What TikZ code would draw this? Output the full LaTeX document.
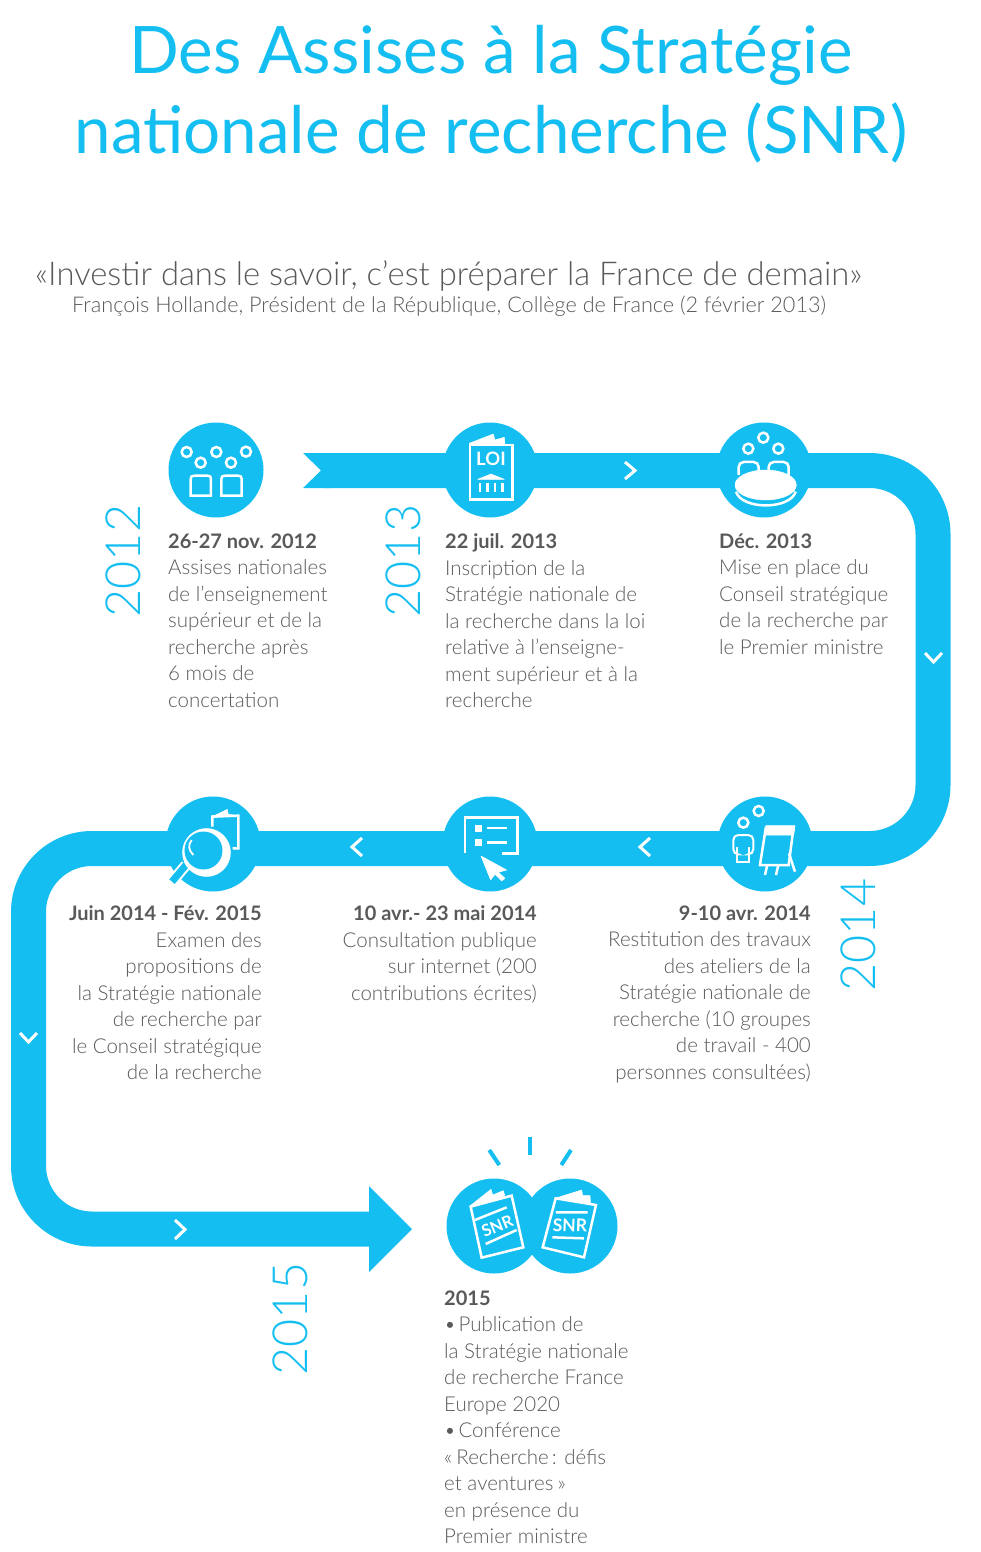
\documentclass[tikz,border=0pt]{standalone}
\usepackage{fontspec}
\setmainfont{Lato}[UprightFont=* Light,BoldFont=* Bold]
\newfontfamily\titlefont{Lato}
\usetikzlibrary{positioning}
\usetikzlibrary{calc}
\definecolor{snrblue}{HTML}{14BEF0}
\definecolor{snrgrey}{HTML}{58595B}
\tikzset{
    band/.style={draw=snrblue, line width=35pt, rounded corners=63.5pt},
    dot/.style={circle, fill=snrblue, minimum size=95pt, inner sep=0pt},
    chevron/.style={draw=white, line width=3pt},
    line/.style={draw=white, line width=2.5pt},
    solid white/.style={fill=white, draw=white, line width=0.5pt, line join=round},
    ray/.style={draw=snrblue, line width=4pt},
    year/.style={text=snrblue, rotate=90, inner sep=0pt, font=\fontsize{48.5}{48.5}\selectfont},
    note/.style={text=snrgrey, inner sep=0pt, anchor=north west, align=left, font=\fontsize{20.5}{26.5}\selectfont},
    noter/.style={note, anchor=north east, align=right},
}
\newcommand{\dateline}[1]{{\fontsize{20}{26.5}\selectfont\textbf{#1}}}
\begin{document}
\begin{tikzpicture}[x=1pt, y=-1pt]
    \useasboundingbox (0,0) rectangle (980,1552);

    % titles
    \node[text=snrblue, inner sep=0pt, align=center, font=\titlefont\fontsize{65.5}{80}\selectfont] (title) at (491,94) {Des Assises à la Stratégie\\nationale de recherche (SNR)};
    \node[text=snrgrey, inner sep=0pt, anchor=base west, font=\fontsize{32.8}{36}\selectfont] (quote) at (35,285) {«Investir dans le savoir, c'est préparer la France de demain»};
    \node[text=snrgrey, inner sep=0pt, anchor=base west, font=\fontsize{21.65}{26}\selectfont] (author) at (72,312) {François Hollande, Président de la République, Collège de France (2 février 2013)};

    % the band
    \coordinate (b0) at (325,470.5);
    \coordinate (b1) at (933,470.5);
    \coordinate (b2) at (933,848.5);
    \coordinate (b3) at (28.5,848.5);
    \coordinate (b4) at (28.5,1229);
    \coordinate (b5) at (370,1229);
    \draw[band] (b0) -- (b1) -- (b2) -- (b3) -- (b4) -- (b5);
    \fill[snrblue] (303,453) -- (330,453) -- (330,488) -- (303,488) -- (321,470.5) -- cycle;
    \fill[snrblue] (369,1186) -- (412,1229) -- (369,1272) -- cycle;

    \draw[chevron] (625,462) -- (635,470.5) -- (625,479);
    \draw[chevron] (925,653) -- (933.5,662) -- (942,653);
    \draw[chevron] (650,838) -- (640,847) -- (650,856);
    \draw[chevron] (362,838) -- (352,847) -- (362,856);
    \draw[chevron] (20,1033) -- (28.5,1042) -- (37,1033);
    \draw[chevron] (175,1220) -- (185,1229.5) -- (175,1239);

    \node[dot] (assises) at (216,470) {};
    \node[dot] (loi) at (490,470) {};
    \node[dot] (conseil) at (764,470) {};
    \node[dot] (examen) at (213,844) {};
    \node[dot] (consult) at (490,844) {};
    \node[dot] (atelier) at (765,844) {};
    \node[dot] (snra) at (494,1226) {};
    \node[dot] (snrb) at (570,1226) {};

    % assises icon
    \begin{scope}[shift={(150,410)}, x=0.3333pt, y=-0.3333pt]
        \foreach \x/\y in {110/126, 152/158, 199/126, 243/158, 288/125}
            \draw[line] (\x,\y) circle (15);
        \foreach \x in {122, 214}
            \draw[line] (\x,257) -- (\x,217) .. controls (\x,197) and (\x,197) .. (\x+20,197) -- (\x+41,197) .. controls (\x+61,197) and (\x+61,197) .. (\x+61,217) -- (\x+61,257) -- cycle;
    \end{scope}

    % loi icon
    \begin{scope}[shift={(150,410)}, x=0.3333pt, y=-0.3333pt]
        \fill[solid white] (958,100) -- (1030,72) -- (1035,90) -- (1063,82) -- (1065,105) -- (958,105) -- cycle;
        \draw[line] (960,105) rectangle (1087,268);
        \node[text=white, inner sep=0pt, font=\bfseries\fontsize{18.5}{18.5}\selectfont] (loitext) at (1023,146) {LOI};
        \fill[solid white] (983,208) -- (1023,192) -- (1063,208) -- cycle;
        \foreach \x in {990, 1012, 1035, 1058}
            \draw[line] (\x,218) -- (\x,245);
    \end{scope}

    % conseil icon
    \begin{scope}[shift={(700,410)}, x=0.3333pt, y=-0.3333pt]
        \foreach \x/\y in {145/116, 190/83, 235/116}
            \draw[line] (\x,\y) circle (15);
        \foreach \x in {116, 206}
            \draw[line, rounded corners=5pt] (\x,195) -- (\x,156) -- (\x+60,156) -- (\x+60,195);
        \fill[solid white] (197,225) ellipse (92 and 45);
        \draw[line] (108,245) .. controls (125,300) and (270,300) .. (287,245);
    \end{scope}

    % atelier icon
    \begin{scope}[shift={(630,785)}, x=0.3333pt, y=-0.3333pt]
        \foreach \x/\y in {340/113, 386/78}
            \draw[line] (\x,\y) circle (15);
        \draw[line, line width=2pt, rounded corners=5pt] (322,208) -- (310,208) -- (310,150) -- (370,150) -- (370,208) -- (358,208);
        \draw[line, line width=2pt] (322,185) -- (322,230) -- (358,230) -- (358,185);
        \fill[solid white] (408,122) -- (495,122) -- (491,150) -- (402,150) -- cycle;
        \draw[line] (408,125) -- (390,240) -- (476,240) -- (491,125);
        \draw[line] (412,240) -- (405,270) (445,240) -- (438,270) (477,205) -- (495,260);
    \end{scope}

    % consultation icon
    \begin{scope}[shift={(150,785)}, x=0.3333pt, y=-0.3333pt]
        \draw[line] (945,205) -- (945,97) -- (1102,97) -- (1102,205) -- (1057,205);
        \foreach \y in {129, 173} {
            \fill[solid white] (975,\y-9) rectangle (995,\y+9);
            \draw[line] (1012,\y) -- (1072,\y);
        }
        \fill[solid white] (993,213) -- (1070,255) -- (1045,262) -- (1065,280) -- (1055,288) -- (1035,268) -- (1022,285) -- cycle;
    \end{scope}

    % examen icon
    \begin{scope}[shift={(150,785)}, x=0.3333pt, y=-0.3333pt]
        \fill[solid white] (187,95) -- (232,73) -- (235,88) -- (265,92) -- (187,92) -- cycle;
        \draw[line] (187,125) -- (187,95) -- (265,92) -- (265,190) -- (248,190);
        \draw[white, line width=11pt] (108,240) -- (66,290);
        \draw[snrblue, line width=7pt] (108,240) -- (66,290);
        \fill[solid white] (169.5,202.5) circle (72);
        \fill[snrblue] (160.5,196.5) circle (57);
        \draw[line, line width=1.8pt] (125,165) .. controls (114,180) and (115,195) .. (130,210);
    \end{scope}

    % snr icons
    \begin{scope}[shift={(360,1130)}, x=0.3333pt, y=-0.3333pt]
        \draw[ray] (388,60) -- (418,105);
        \draw[ray] (511,22) -- (511,76);
        \draw[ray] (633,60) -- (604,105);

        \fill[solid white] (330,228) -- (393,178) -- (398,195) -- (430,182) -- (435,200) -- (455,195) -- cycle;
        \draw[line] (332,230) -- (455,197) -- (490,352) -- (365,383) -- cycle;
        \draw[line] (345,270) -- (440,232) (377,342) -- (470,300);
        \node[text=white, inner sep=0pt, rotate=22, font=\bfseries\fontsize{16.5}{16.5}\selectfont] (snrtexta) at (412,288) {SNR};

        \fill[solid white] (585,205) -- (665,180) -- (668,197) -- (690,197) -- (692,222) -- cycle;
        \draw[line] (587,205) -- (708,225) -- (672,382) -- (548,352) -- cycle;
        \draw[line] (588,247) -- (683,247) (577,322) -- (672,325);
        \node[text=white, inner sep=0pt, rotate=-2, font=\bfseries\fontsize{17.5}{17.5}\selectfont] (snrtextb) at (630,286) {SNR};
    \end{scope}

    % years
    \node[year] (y2012) at (123,561) {2012};
    \node[year] (y2013) at (403,561) {2013};
    \node[year] (y2014) at (858,935) {2014};
    \node[year] (y2015) at (290,1319) {2015};

    % notes
    \node[note] (n1) at (168,533.5) {\dateline{26-27 nov. 2012}\\Assises nationales\\de l'enseignement\\supérieur et de la\\recherche après\\6 mois de\\concertation};
    \node[note] (n2) at (445,533.5) {\dateline{22 juil. 2013}\\Inscription de la\\Stratégie nationale de\\la recherche dans la loi\\relative à l'enseigne-\\ment supérieur et à la\\recherche};
    \node[note] (n3) at (719,533.5) {\dateline{Déc. 2013}\\Mise en place du\\Conseil stratégique\\de la recherche par\\le Premier ministre};
    \node[noter] (n4) at (811,905.5) {\dateline{9-10 avr. 2014}\\Restitution des travaux\\des ateliers de la\\Stratégie nationale de\\recherche (10 groupes\\de travail - 400\\personnes consultées)};
    \node[noter] (n5) at (537,905.5) {\dateline{10 avr.- 23 mai 2014}\\Consultation publique\\sur internet (200\\contributions écrites)};
    \node[noter] (n6) at (262,905.5) {\dateline{Juin 2014 - Fév. 2015}\\Examen des\\propositions de\\la Stratégie nationale\\de recherche par\\le Conseil stratégique\\de la recherche};
    \node[note] (n7) at (444,1290.5) {\dateline{2015}\\•\hspace{0.12em}Publication de\\la Stratégie nationale\\de recherche France\\Europe 2020\\•\hspace{0.12em}Conférence\\«\hspace{0.2em}Recherche\hspace{0.15em}: défis\\et aventures\hspace{0.2em}»\\en présence du\\Premier ministre};
\end{tikzpicture}
\end{document}
